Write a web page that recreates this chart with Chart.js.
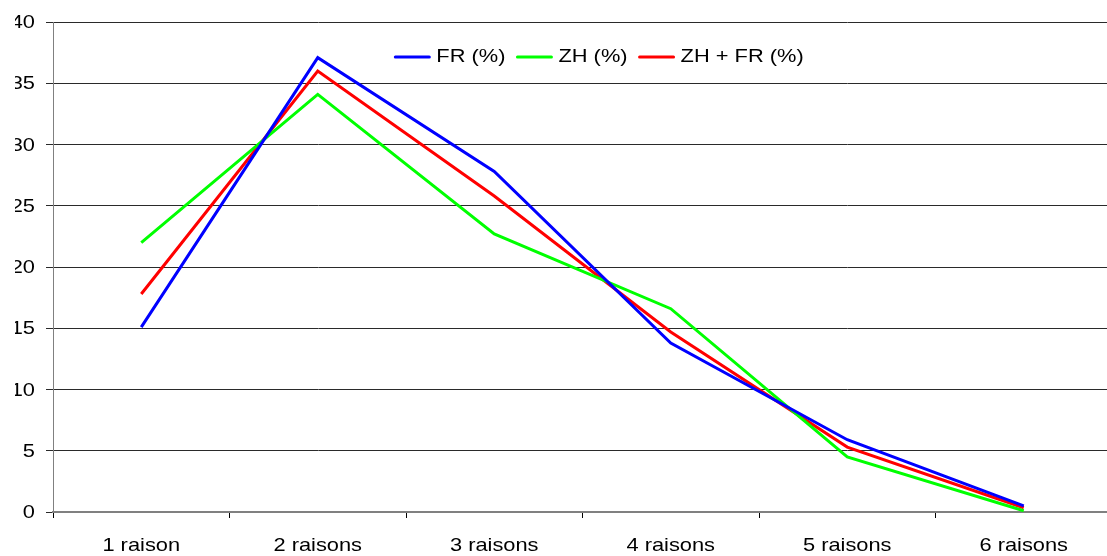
<!DOCTYPE html>
<html>
<head>
<meta charset="utf-8">
<script src="https://cdn.jsdelivr.net/npm/chart.js@4/dist/chart.umd.min.js"></script>
<style>
  html, body { margin: 0; padding: 0; background: #fff; overflow: hidden; }
  #wrap { position: relative; width: 1112px; height: 556px; }
</style>
</head>
<body>
<div id="wrap"><canvas id="c"></canvas></div>
<script>
// Number of reasons given, by language group
const categories = ['1 raison', '2 raisons', '3 raisons', '4 raisons', '5 raisons', '6 raisons'];
const seriesNames = ['FR (%)', 'ZH (%)', 'ZH + FR (%)'];
const fr = [15.1, 37.1, 27.8, 13.8, 5.9, 0.5];
const zh = [22.0, 34.1, 22.7, 16.6, 4.5, 0.1];
const zhFr = [17.8, 36.0, 25.8, 14.7, 5.3, 0.35];
const seriesColors = ['#0000ff', '#00ff00', '#ff0000'];

const FONT = '"Liberation Sans", Arial, sans-serif';
const FONT_SIZE = 18.5;
const TEXT_STRETCH = 1.18;   // glyphs are drawn a little wider than the stock face

const canvas = document.getElementById('c');
const ctx2d = canvas.getContext('2d');

// widen every text run horizontally around its anchor point
(function stretchText(ctx, sx) {
  const fill = ctx.fillText.bind(ctx);
  const measure = ctx.measureText.bind(ctx);
  ctx.fillText = function (text, x, y) {
    this.save();
    this.translate(x, y);
    this.scale(sx, 1);
    fill(text, 0, 0);
    this.restore();
  };
  ctx.measureText = function (text) {
    const m = measure(text);
    return {
      width: m.width * sx,
      actualBoundingBoxLeft: m.actualBoundingBoxLeft * sx,
      actualBoundingBoxRight: m.actualBoundingBoxRight * sx,
      actualBoundingBoxAscent: m.actualBoundingBoxAscent,
      actualBoundingBoxDescent: m.actualBoundingBoxDescent,
      fontBoundingBoxAscent: m.fontBoundingBoxAscent,
      fontBoundingBoxDescent: m.fontBoundingBoxDescent
    };
  };
})(ctx2d, TEXT_STRETCH);

const makeSet = (label, data, color) => ({
  label, data,
  borderColor: color,
  backgroundColor: color,
  borderWidth: 3,
  pointRadius: 0,
  tension: 0,
  fill: false
});

// horizontal legend drawn inside the plot, near the top
const inlineLegend = {
  id: 'inlineLegend',
  afterDatasetsDraw(chart) {
    const ctx = chart.ctx;
    const sets = chart.data.datasets;
    const lineLen = 36, lineGap = 6, itemGap = 11;
    const centerX = 599, y = 57;
    ctx.save();
    ctx.font = `${FONT_SIZE}px ${FONT}`;
    ctx.textBaseline = 'middle';
    ctx.textAlign = 'left';
    const widths = sets.map(ds => ctx.measureText(ds.label).width);
    let total = 0;
    widths.forEach((w, i) => { total += lineLen + lineGap + w + (i < widths.length - 1 ? itemGap : 0); });
    let x = centerX - total / 2;
    sets.forEach((ds, i) => {
      ctx.strokeStyle = ds.borderColor;
      ctx.lineWidth = 3;
      ctx.lineCap = 'round';
      ctx.beginPath();
      ctx.moveTo(x + 1, y);
      ctx.lineTo(x + lineLen - 1, y);
      ctx.stroke();
      ctx.fillStyle = '#000';
      ctx.fillText(ds.label, x + lineLen + lineGap, y);
      x += lineLen + lineGap + widths[i] + itemGap;
    });
    ctx.restore();
  }
};

new Chart(canvas, {
  type: 'line',
  data: {
    labels: categories,
    datasets: [
      makeSet(seriesNames[0], fr, seriesColors[0]),
      makeSet(seriesNames[1], zh, seriesColors[1]),
      makeSet(seriesNames[2], zhFr, seriesColors[2])
    ]
  },
  options: {
    responsive: true,
    maintainAspectRatio: false,
    animation: false,
    layout: { padding: { left: 15, right: 0, top: 22, bottom: 0 } },
    plugins: {
      legend: { display: false },
      tooltip: { enabled: false }
    },
    scales: {
      x: {
        offset: true,
        grid: {
          offset: true,
          drawOnChartArea: false,
          drawTicks: true,
          tickLength: 6,
          color: '#000'
        },
        border: { color: '#808080', width: 2 },
        ticks: {
          color: '#000',
          padding: 17,
          maxRotation: 0,
          autoSkip: false,
          font: { family: FONT, size: FONT_SIZE }
        },
        afterFit(scale) { scale.height = 44; }
      },
      y: {
        min: 0,
        max: 40,
        ticks: {
          stepSize: 5,
          color: '#000',
          padding: 11,
          labelOffset: 1,
          font: { family: FONT, size: FONT_SIZE }
        },
        grid: {
          color: '#2a2a2a',
          lineWidth: 1,
          tickLength: 7
        },
        border: { color: '#808080', width: 1 },
        afterFit(scale) { scale.width = 38; }
      }
    }
  },
  plugins: [inlineLegend]
});
</script>
</body>
</html>
